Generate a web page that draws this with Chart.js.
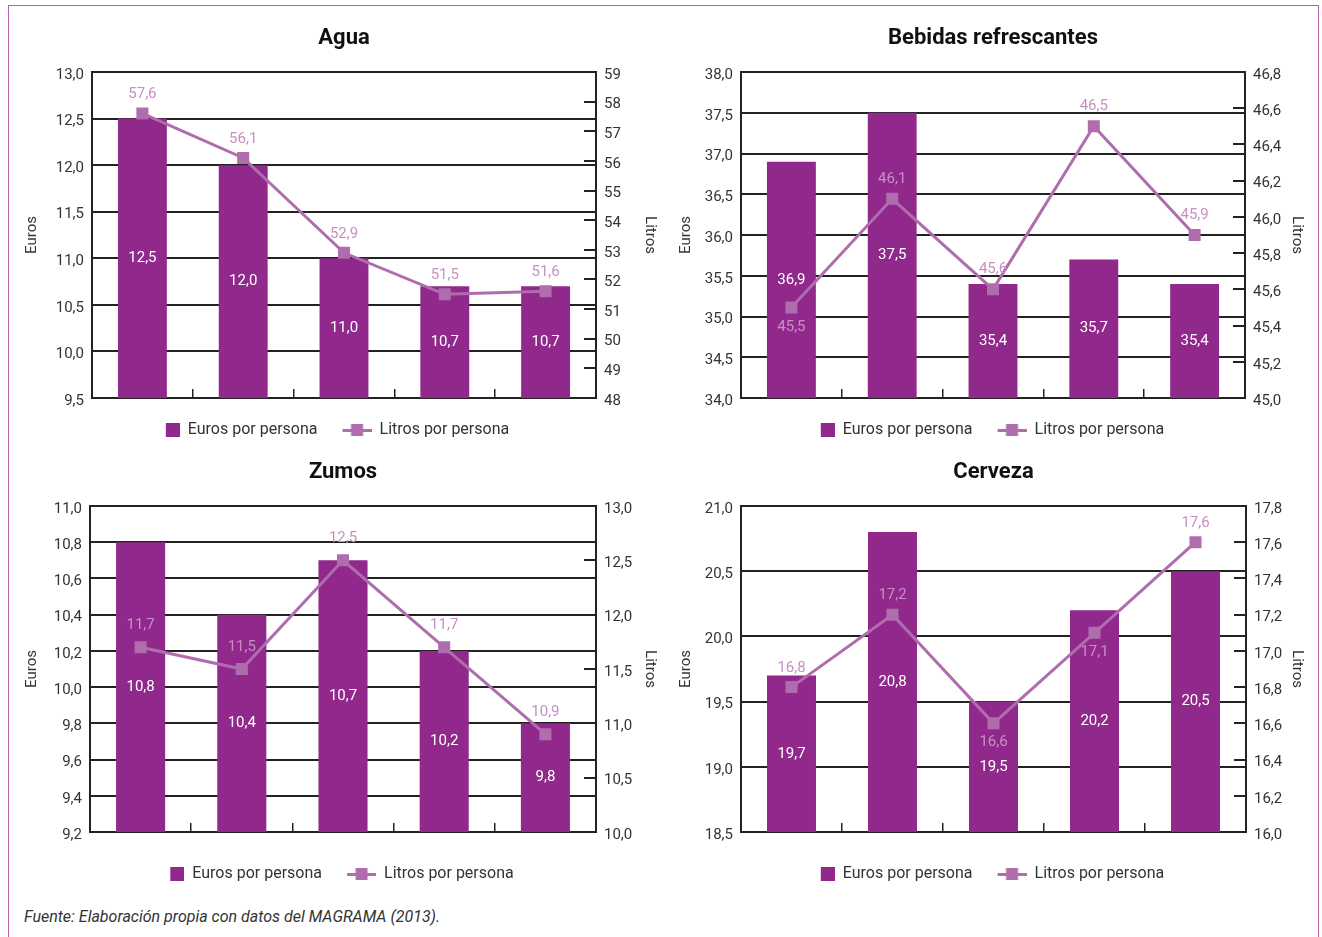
<!DOCTYPE html>
<html lang="es">
<head>
<meta charset="utf-8">
<title>Gasto y consumo per cápita de bebidas</title>
<script src="https://cdn.jsdelivr.net/npm/chart.js@4.4.1/dist/chart.umd.min.js"></script>
<style>
  html, body { margin: 0; padding: 0; background: #ffffff; }
  body { width: 1322px; height: 937px; position: relative; overflow: hidden; font-family: Roboto, sans-serif; }
  .frame { position: absolute; left: 8px; top: 5px; width: 1309px; height: 980px;
           border: 1px solid #b45db1; border-bottom: none; }
  canvas { position: absolute; }
  #fuente { position: absolute; left: 24px; top: 907px; font-size: 16px; font-style: italic; color: #333333; }
</style>
</head>
<body>
<div class="frame"></div>
<canvas id="cAgua"></canvas>
<canvas id="cBebidas"></canvas>
<canvas id="cZumos"></canvas>
<canvas id="cCerveza"></canvas>
<div id="fuente">Fuente: Elaboración propia con datos del MAGRAMA (2013).</div>

<script>
// ---- Data -------------------------------------------------------------
const categories = ['2009', '2010', '2011', '2012', '2013'];

const aguaEuros = [12.5, 12.0, 11.0, 10.7, 10.7];
const aguaLitros = [57.6, 56.1, 52.9, 51.5, 51.6];

const bebidasEuros = [36.9, 37.5, 35.4, 35.7, 35.4];
const bebidasLitros = [45.5, 46.1, 45.6, 46.5, 45.9];

const zumosEuros = [10.8, 10.4, 10.7, 10.2, 9.8];
const zumosLitros = [11.7, 11.5, 12.5, 11.7, 10.9];

const cervezaEuros = [19.7, 20.8, 19.5, 20.2, 20.5];
const cervezaLitros = [16.8, 17.2, 16.6, 17.1, 17.6];

// Axis ranges: [min, max, step]
const aguaEurosAxis = [9.5, 13.0, 0.5];
const aguaLitrosAxis = [48, 59, 1];
const bebidasEurosAxis = [34.0, 38.0, 0.5];
const bebidasLitrosAxis = [45.0, 46.8, 0.2];
const zumosEurosAxis = [9.2, 11.0, 0.2];
const zumosLitrosAxis = [10.0, 13.0, 0.5];
const cervezaEurosAxis = [18.5, 21.0, 0.5];
const cervezaLitrosAxis = [16.0, 17.8, 0.2];

const seriesNames = ['Euros por persona', 'Litros por persona'];

// ---- Styling ----------------------------------------------------------
const BAR_COLOR = '#90298b';
const LINE_COLOR = '#b06dae';
const LINE_LABEL_COLOR = '#c690c3';
const AXIS_COLOR = '#222222';
const TEXT_COLOR = '#333333';
const FONT_FAMILY = 'Roboto, "Open Sans", sans-serif';

Chart.defaults.font.family = FONT_FAMILY;
Chart.defaults.font.size = 15;

const fmt = (v, d) => Number(v).toFixed(d).replace('.', ',');

// Legend swatches drawn as small canvases (square for bars, line+marker for the series line)
function makeSwatch(kind) {
  const c = document.createElement('canvas');
  c.width = 34; c.height = 14;
  const g = c.getContext('2d');
  if (kind === 'bar') {
    g.fillStyle = BAR_COLOR;
    g.fillRect(20, 0, 14, 14);
  } else {
    g.fillStyle = LINE_COLOR;
    g.fillRect(5, 6, 29, 3);
    g.fillRect(13.5, 1, 12, 12);
  }
  return c;
}
const barSwatch = makeSwatch('bar');
const lineSwatch = makeSwatch('line');

// Value labels: white inside bars (centred), tinted above/below line markers.
// Positions come from the chart's own scales.
const valueLabels = {
  id: 'valueLabels',
  afterDraw(chart, args, opts) {
    const ctx = chart.ctx;
    const xs = chart.scales.x;
    const yBar = chart.scales.y;
    const yLine = chart.scales.y1;
    ctx.save();
    ctx.font = '15px ' + FONT_FAMILY;
    ctx.textAlign = 'center';
    ctx.textBaseline = 'middle';
    chart.data.datasets.forEach((ds) => {
      ds.data.forEach((v, i) => {
        const txt = fmt(v, 1);
        const x = xs.getPixelForValue(i);
        if (ds.type === 'bar') {
          const top = yBar.getPixelForValue(v);
          const base = yBar.getPixelForValue(yBar.min);
          ctx.fillStyle = '#ffffff';
          ctx.fillText(txt, x, (top + base) / 2);
        } else {
          const y = yLine.getPixelForValue(v);
          const below = (opts.below || []).includes(i);
          ctx.fillStyle = LINE_LABEL_COLOR;
          ctx.fillText(txt, x, y + (below ? opts.gap : -opts.gap));
        }
      });
    });
    ctx.restore();
  }
};

function makeChart(id, cfg) {
  const cv = document.getElementById(id);
  cv.width = cfg.box.w; cv.height = cfg.box.h;
  cv.style.left = cfg.box.x + 'px'; cv.style.top = cfg.box.y + 'px';
  cv.style.width = cfg.box.w + 'px'; cv.style.height = cfg.box.h + 'px';

  const [eMin, eMax, eStep] = cfg.eurosAxis;
  const [lMin, lMax, lStep] = cfg.litrosAxis;

  return new Chart(cv, {
    type: 'bar',
    data: {
      labels: categories,
      datasets: [
        {
          type: 'bar', label: seriesNames[0], data: cfg.euros, yAxisID: 'y', order: 1,
          backgroundColor: BAR_COLOR, borderWidth: 0,
          barPercentage: 0.485, categoryPercentage: 1
        },
        {
          type: 'line', label: seriesNames[1], data: cfg.litros, yAxisID: 'y1', order: 0,
          borderColor: LINE_COLOR, borderWidth: 3, tension: 0,
          pointStyle: 'rect', pointRadius: 8.5, pointHoverRadius: 8.5,
          pointBackgroundColor: LINE_COLOR, pointBorderWidth: 0, pointBorderColor: LINE_COLOR
        }
      ]
    },
    options: {
      responsive: false,
      animation: false,
      devicePixelRatio: 1,
      events: [],
      layout: { padding: { left: 0, right: cfg.padRight, top: 0, bottom: 5 } },
      scales: {
        x: {
          type: 'category',
          ticks: { display: false },
          grid: { offset: true, drawOnChartArea: false, drawTicks: true, tickLength: -9,
                  color: AXIS_COLOR, lineWidth: 1.5 },
          border: { display: true, color: AXIS_COLOR, width: 2 },
          afterFit: s => { s.height = cfg.xHeight; }
        },
        y: {
          type: 'linear', position: 'left', min: eMin, max: eMax,
          ticks: { stepSize: eStep, maxTicksLimit: 100, padding: 8, labelOffset: 3,
                   color: TEXT_COLOR, font: { size: 15 }, callback: v => fmt(v, 1) },
          grid: { color: AXIS_COLOR, lineWidth: 2, drawTicks: false },
          border: { display: true, color: AXIS_COLOR, width: 2 },
          title: { display: true, text: 'Euros', color: TEXT_COLOR, font: { size: 15 },
                   padding: { top: cfg.eurosTitlePad, bottom: 0 } },
          afterFit: s => { s.width = cfg.leftW; }
        },
        y1: {
          type: 'linear', position: 'right', min: lMin, max: lMax,
          ticks: { stepSize: lStep, maxTicksLimit: 100, padding: 20, labelOffset: 3,
                   color: TEXT_COLOR, font: { size: 15 }, callback: v => fmt(v, cfg.litrosDecimals) },
          grid: { drawOnChartArea: false, drawTicks: true, tickLength: -12,
                  color: AXIS_COLOR, lineWidth: 2 },
          border: { display: true, color: AXIS_COLOR, width: 2 },
          title: { display: true, text: 'Litros', color: TEXT_COLOR, font: { size: 15 },
                   padding: { top: cfg.litrosTitlePad, bottom: 0 } },
          afterFit: s => { s.width = cfg.rightW; }
        }
      },
      plugins: {
        title: {
          display: true, text: cfg.title, fullSize: false, color: '#111111',
          font: { size: 22, weight: 'bold' },
          padding: { top: 24.8, bottom: 20.8 }
        },
        legend: {
          display: true, position: 'bottom',
          labels: {
            usePointStyle: true, pointStyleWidth: 34, padding: 20,
            color: TEXT_COLOR, font: { size: 16 },
            generateLabels: () => [
              { text: seriesNames[0], pointStyle: barSwatch, fillStyle: BAR_COLOR, strokeStyle: BAR_COLOR,
                lineWidth: 0, hidden: false, datasetIndex: 0, fontColor: TEXT_COLOR },
              { text: seriesNames[1], pointStyle: lineSwatch, fillStyle: LINE_COLOR, strokeStyle: LINE_COLOR,
                lineWidth: 0, hidden: false, datasetIndex: 1, fontColor: TEXT_COLOR }
            ]
          }
        },
        tooltip: { enabled: false },
        valueLabels: { below: cfg.labelsBelow, gap: cfg.labelGap }
      }
    },
    plugins: [valueLabels]
  });
}

makeChart('cAgua', {
  title: 'Agua', euros: aguaEuros, litros: aguaLitros,
  eurosAxis: aguaEurosAxis, litrosAxis: aguaLitrosAxis, litrosDecimals: 0,
  box: { x: 0, y: 0, w: 660, h: 453 }, padRight: 5, leftW: 92, rightW: 59, xHeight: 4,
  eurosTitlePad: 23, litrosTitlePad: -4, labelsBelow: [], labelGap: 19
});

makeChart('cBebidas', {
  title: 'Bebidas refrescantes', euros: bebidasEuros, litros: bebidasLitros,
  eurosAxis: bebidasEurosAxis, litrosAxis: bebidasLitrosAxis, litrosDecimals: 1,
  box: { x: 650, y: 0, w: 672, h: 453 }, padRight: 7, leftW: 91, rightW: 70, xHeight: 4,
  eurosTitlePad: 27, litrosTitlePad: 9, labelsBelow: [0], labelGap: 20
});

makeChart('cZumos', {
  title: 'Zumos', euros: zumosEuros, litros: zumosLitros,
  eurosAxis: zumosEurosAxis, litrosAxis: zumosLitrosAxis, litrosDecimals: 1,
  box: { x: 0, y: 434, w: 670, h: 463 }, padRight: 6, leftW: 90, rightW: 68, xHeight: 14,
  eurosTitlePad: 23, litrosTitlePad: 5, labelsBelow: [], labelGap: 22
});

makeChart('cCerveza', {
  title: 'Cerveza', euros: cervezaEuros, litros: cervezaLitros,
  eurosAxis: cervezaEurosAxis, litrosAxis: cervezaLitrosAxis, litrosDecimals: 1,
  box: { x: 650, y: 434, w: 672, h: 463 }, padRight: 7, leftW: 91, rightW: 69, xHeight: 14,
  eurosTitlePad: 27, litrosTitlePad: 9, labelsBelow: [2, 3], labelGap: 19
});
</script>
</body>
</html>
